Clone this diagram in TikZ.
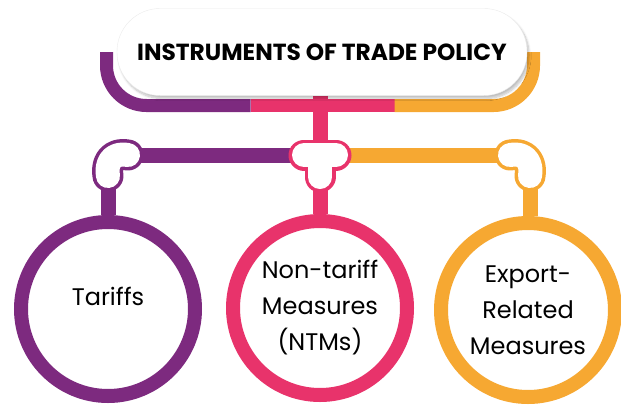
\documentclass[tikz,border=0pt]{standalone}
\usepackage{fontspec}
\setmainfont{Poppins}
\usetikzlibrary{shadows.blur, backgrounds}
\definecolor{TariffColor}{HTML}{7D2A7F}
\definecolor{NTMColor}{HTML}{E8336B}
\definecolor{ExportColor}{HTML}{F6A832}

\tikzset{
  pipe/.style={line width=15pt},
  jointout/.style={line width=31pt, line cap=round, line join=round, draw=#1},
  jointin/.style={line width=24pt, line cap=round, line join=round, draw=white},
  ring/.style={circle, draw=#1, line width=14pt, fill=white, minimum size=174pt,
    inner sep=0pt, align=center, font=\fontsize{24}{36}\selectfont},
  pill/.style={rectangle, rounded corners=43pt, fill=white, draw=black!8,
    minimum width=410pt, minimum height=87pt, font=\bfseries\fontsize{23.3}{28}\selectfont,
    blur shadow={shadow xshift=2pt, shadow yshift=-3pt, shadow blur steps=10, shadow opacity=25}},
}

\begin{document}
\begin{tikzpicture}[x=1pt, y=-1pt]
  \useasboundingbox (0,0) rectangle (621,405);

  \node[pill] (title) at (322,52) {INSTRUMENTS OF TRADE POLICY};

  \node[ring=TariffColor] (tariffs) at (108,309) {Tariffs\\[-0.3\baselineskip]};
  \node[ring=NTMColor] (ntms) at (320,308) {Non-tariff\\Measures\\(NTMs)};
  \node[ring=ExportColor] (export) at (528,310) {Export-\\Related\\Measures};

  \coordinate (jl) at (128,155);
  \coordinate (jc) at (320,155);
  \coordinate (jr) at (510,155);
  \coordinate (jlb) at (108,176);
  \coordinate (jcb) at (320,177);
  \coordinate (jrb) at (530,176);

  \begin{scope}[on background layer]
    % coloured band behind the title
    \draw[line width=13pt, rounded corners=40pt, color=TariffColor] (106.5,52) -- (106.5,105.5) -- (250.5,105.5);
    \draw[line width=13pt, color=NTMColor] (250.5,105.5) -- (394.5,105.5);
    \draw[line width=13pt, rounded corners=40pt, color=ExportColor] (394.5,105.5) -- (533.5,105.5) -- (533.5,52);
    \draw[pipe, color=NTMColor] (jc |- title.south) -- (jc);
    \draw[pipe, color=TariffColor] (jl) -- (jc);
    \draw[pipe, color=ExportColor] (jc) -- (jr);
    \draw[pipe, color=TariffColor] (jlb) -- (tariffs.north);
    \draw[pipe, color=NTMColor] (jcb) -- (ntms.north);
    \draw[pipe, color=ExportColor] (jrb) -- (jrb |- export.north);
  \end{scope}

  % pipe joints
  \draw[jointout=TariffColor] (jl) .. controls (110,152) and (106,165) .. (jlb);
  \draw[jointin] (jl) .. controls (110,152) and (106,165) .. (jlb);
  \draw[jointout=NTMColor] (304,155) -- (336,155) (jc) -- (jcb);
  \draw[jointin] (304,155) -- (336,155) (jc) -- (jcb);
  \draw[jointout=ExportColor] (jr) .. controls (528,152) and (532,165) .. (jrb);
  \draw[jointin] (jr) .. controls (528,152) and (532,165) .. (jrb);
\end{tikzpicture}
\end{document}
